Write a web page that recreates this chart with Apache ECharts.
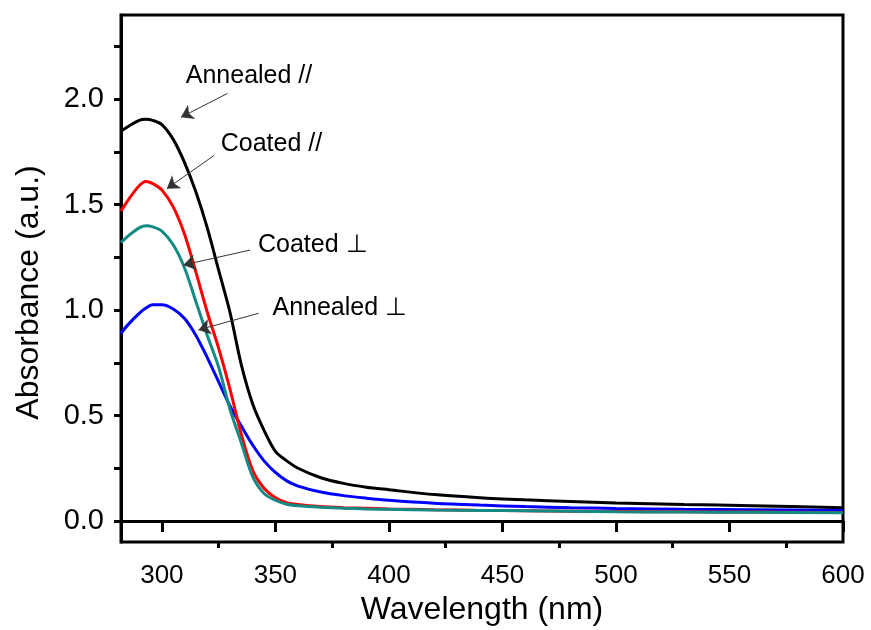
<!DOCTYPE html>
<html>
<head>
<meta charset="utf-8">
<script src="https://cdn.jsdelivr.net/npm/echarts@6/dist/echarts.min.js"></script>
<style>
    html, body { margin: 0; padding: 0; background: #fff; }
    #chart { width: 871px; height: 630px; }
</style>
</head>
<body>
<div id="chart"></div>
<script type="text/javascript">
    // wavelength grid (nm)
    var wavelength = [282, 285, 290, 293, 296, 300, 305, 310, 315, 320, 325, 330, 335, 340, 345,
        350, 355, 360, 370, 380, 390, 400, 420, 440, 460, 480, 500, 530, 560, 600];
    // absorbance values
    var annealedPar = [1.85, 1.87, 1.90, 1.905, 1.90, 1.88, 1.81, 1.70, 1.56, 1.39, 1.19, 0.99, 0.74, 0.555, 0.43,
        0.33, 0.285, 0.25, 0.205, 0.178, 0.16, 0.148, 0.125, 0.11, 0.10, 0.092, 0.085, 0.078, 0.072, 0.063];
    var coatedPar = [1.47, 1.52, 1.59, 1.61, 1.60, 1.57, 1.49, 1.36, 1.18, 0.99, 0.82, 0.625, 0.41, 0.24, 0.155,
        0.11, 0.087, 0.078, 0.068, 0.063, 0.06, 0.057, 0.053, 0.05, 0.048, 0.046, 0.045, 0.043, 0.042, 0.04];
    var coatedPerp = [1.32, 1.35, 1.39, 1.40, 1.395, 1.375, 1.31, 1.20, 1.04, 0.88, 0.73, 0.53, 0.37, 0.21, 0.13,
        0.098, 0.079, 0.072, 0.065, 0.06, 0.057, 0.055, 0.052, 0.05, 0.048, 0.046, 0.044, 0.042, 0.041, 0.039];
    var annealedPerp = [0.89, 0.93, 0.985, 1.01, 1.025, 1.025, 1.005, 0.96, 0.88, 0.775, 0.66, 0.545, 0.45, 0.36, 0.285,
        0.23, 0.19, 0.165, 0.137, 0.12, 0.108, 0.098, 0.084, 0.075, 0.068, 0.063, 0.059, 0.055, 0.053, 0.05];

    // tick values
    var xLabelTicks = [300, 350, 400, 450, 500, 550, 600];
    var xMinorTicks = [325, 375, 425, 475, 525, 575];
    var yLabelTicks = [0, 0.5, 1.0, 1.5, 2.0];
    var yTicks = [0, 0.25, 0.5, 0.75, 1.0, 1.25, 1.5, 1.75, 2.0, 2.25];

    // annotation text and arrows (data coordinates)
    var annotations = [
        {text: 'Annealed //', at: [310.3, 2.112], from: [328.9, 2.028], to: [308.4, 1.915]},
        {text: 'Coated //', at: [325.7, 1.789], from: [323.0, 1.734], to: [302.2, 1.576]},
        {text: 'Coated \u22a5', at: [342.1, 1.308], from: [338.9, 1.285], to: [309.5, 1.214]},
        {text: 'Annealed \u22a5', at: [348.5, 1.009], from: [342.6, 0.985], to: [316.1, 0.906]}
    ];

    var font = 'Liberation Sans, Arial, sans-serif';

    function pairs(ys) {
        return wavelength.map(function (x, i) { return [x, ys[i]]; });
    }

    function lineSeries(name, ys, color) {
        return {
            name: name,
            type: 'line',
            data: pairs(ys),
            showSymbol: false,
            smooth: 0.3,
            lineStyle: {color: color, width: 3},
            itemStyle: {color: color},
            silent: true
        };
    }

    var series = [
        lineSeries('Annealed //', annealedPar, '#000000'),
        lineSeries('Annealed \u22a5', annealedPerp, '#0000ff'),
        lineSeries('Coated //', coatedPar, '#ff0000'),
        lineSeries('Coated \u22a5', coatedPerp, '#138a84')
    ];

    // annotations drawn through a hidden series
    series.push({
        type: 'line',
        data: [],
        silent: true,
        markLine: {
            silent: true,
            symbol: ['none', 'arrow'],
            symbolSize: 12,
            label: {show: false},
            itemStyle: {color: '#000'},
            lineStyle: {color: '#333', width: 1, type: 'solid'},
            emphasis: {disabled: true},
            data: annotations.map(function (a) {
                return [{coord: a.from}, {coord: a.to}];
            })
        },
        markPoint: {
            silent: true,
            symbol: 'circle',
            symbolSize: 1,
            itemStyle: {color: 'rgba(0,0,0,0)'},
            data: annotations.map(function (a) {
                return {
                    coord: a.at,
                    label: {
                        show: true, position: 'right', distance: 0,
                        formatter: a.text, color: '#000',
                        fontSize: 25, fontFamily: font
                    }
                };
            })
        }
    });

    var myChart = echarts.init(document.getElementById('chart'));
    var option = {
        animation: false,
        backgroundColor: '#fff',
        grid: {
            left: 121, right: 28, top: 15, bottom: 88,
            containLabel: false, outerBoundsMode: 'none',
            show: true, borderColor: '#000', borderWidth: 3
        },
        xAxis: [
            {
                type: 'value', min: 282, max: 600, position: 'bottom',
                name: 'Wavelength (nm)', nameLocation: 'middle', nameGap: 50,
                nameTextStyle: {fontSize: 32, fontFamily: font, color: '#000'},
                axisLine: {show: true, lineStyle: {color: '#000', width: 3}},
                axisTick: {show: true, length: 11, lineStyle: {color: '#000', width: 3}, customValues: xLabelTicks},
                axisLabel: {fontSize: 26, fontFamily: font, color: '#000', margin: 21, customValues: xLabelTicks},
                splitLine: {show: false}
            },
            {
                type: 'value', min: 282, max: 600, position: 'bottom',
                axisLine: {show: false},
                axisTick: {show: true, length: 6, lineStyle: {color: '#000', width: 3}, customValues: xMinorTicks},
                axisLabel: {show: false},
                splitLine: {show: false}
            }
        ],
        yAxis: [
            {
                type: 'value', min: -0.1, max: 2.4,
                name: 'Absorbance (a.u.)', nameLocation: 'middle', nameGap: 76,
                nameTextStyle: {fontSize: 32, fontFamily: font, color: '#000', padding: [0, 28, 0, 0]},
                axisLine: {show: true, lineStyle: {color: '#000', width: 3}},
                axisTick: {show: true, length: 7, lineStyle: {color: '#000', width: 3}, customValues: yTicks},
                axisLabel: {
                    fontSize: 29, fontFamily: font, color: '#000', margin: 17, customValues: yLabelTicks,
                    formatter: function (v) { return v.toFixed(1); }
                },
                splitLine: {show: false}
            }
        ],
        series: series
    };
    myChart.setOption(option);
</script>
</body>
</html>
